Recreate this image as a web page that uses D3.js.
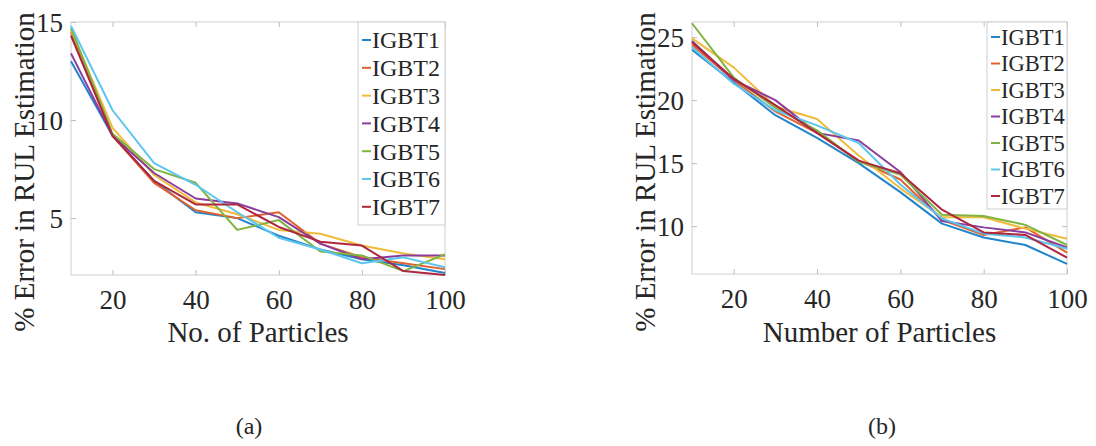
<!DOCTYPE html>
<meta charset="utf-8">
<script src="https://d3js.org/d3.v7.min.js"></script>
<style>
  body { margin: 0; background: #fff; }
  text { font-family: "Liberation Serif", "Times New Roman", serif; fill: #262626; }
</style>
<div id="dataviz"></div>
<script>

// number of particles (x values)
var particles = [10, 20, 30, 40, 50, 60, 70, 80, 90, 100];
var names = ["IGBT1", "IGBT2", "IGBT3", "IGBT4", "IGBT5", "IGBT6", "IGBT7"];
var colors = ["#2184cc", "#e0622c", "#efbb3a", "#8a3d9c", "#80b440", "#5cc6f0", "#ae2640"];

// panel (a) values
var errA1 = [13.0, 9.2, 6.9, 5.3, 5.0, 4.1, 3.4, 2.9, 2.6, 2.2];
var errA2 = [14.5, 9.2, 6.8, 5.4, 5.0, 5.3, 3.7, 3.0, 2.7, 2.4];
var errA3 = [14.6, 9.6, 7.2, 5.8, 5.2, 4.4, 4.2, 3.6, 3.2, 2.9];
var errA4 = [13.4, 9.2, 7.3, 6.0, 5.75, 5.05, 3.7, 2.9, 3.1, 3.1];
var errA5 = [14.7, 9.3, 7.5, 6.8, 4.4, 4.9, 3.3, 3.1, 2.3, 3.15];
var errA6 = [14.8, 10.5, 7.8, 6.7, 5.3, 4.0, 3.4, 2.7, 3.0, 2.5];
var errA7 = [14.3, 9.2, 6.9, 5.7, 5.7, 4.55, 3.8, 3.6, 2.3, 2.1];

// panel (b) values
var errB1 = [24.0, 21.4, 18.8, 17.0, 15.0, 12.7, 10.2, 9.1, 8.5, 7.0];
var errB2 = [24.4, 21.6, 19.1, 17.4, 15.2, 13.7, 10.5, 9.3, 9.9, 7.9];
var errB3 = [24.9, 22.6, 19.5, 18.5, 15.6, 13.0, 10.7, 10.7, 9.8, 9.0];
var errB4 = [24.7, 21.6, 20.0, 17.4, 16.8, 14.3, 10.4, 9.9, 9.5, 8.3];
var errB5 = [26.1, 21.8, 19.4, 17.6, 15.1, 14.1, 10.9, 10.8, 10.1, 8.5];
var errB6 = [24.2, 21.3, 19.2, 18.0, 16.6, 13.3, 10.6, 9.4, 9.1, 8.2];
var errB7 = [24.6, 21.7, 19.6, 17.4, 15.2, 14.2, 11.3, 9.5, 9.3, 7.5];

var xTicks = [20, 40, 60, 80, 100];
var yTicksA = [5, 10, 15];
var yTicksB = [10, 15, 20, 25];

var svg = d3.select("#dataviz")
  .append("svg")
    .attr("width", 1096)
    .attr("height", 446);

function drawPanel(opt) {
  var g = svg.append("g")
    .attr("transform", "translate(" + opt.left + "," + opt.top + ")");
  var w = opt.width, h = opt.height;

  var x = d3.scaleLinear().domain([10, 100]).range([0, w]);
  var y = d3.scaleLinear().domain(opt.yDomain).range([h, 0]);

  // box
  g.append("rect")
    .attr("width", w).attr("height", h)
    .attr("fill", "none").attr("stroke", "#cfcfcf").attr("stroke-width", 1);

  // ticks, inward, on all four sides
  var axB = g.append("g").attr("transform", "translate(0," + h + ")")
    .call(d3.axisBottom(x).tickValues(xTicks).tickSizeInner(-5).tickSizeOuter(0).tickPadding(15));
  var axT = g.append("g")
    .call(d3.axisTop(x).tickValues(xTicks).tickSizeInner(-5).tickSizeOuter(0).tickFormat(""));
  var axL = g.append("g")
    .call(d3.axisLeft(y).tickValues(opt.yTicks).tickSizeInner(-5).tickSizeOuter(0).tickPadding(8));
  var axR = g.append("g").attr("transform", "translate(" + w + ",0)")
    .call(d3.axisRight(y).tickValues(opt.yTicks).tickSizeInner(-5).tickSizeOuter(0).tickFormat(""));
  [axB, axT, axL, axR].forEach(function(a) {
    a.select(".domain").remove();
    a.selectAll("line").attr("stroke", "#bdbdbd");
    a.selectAll("text")
      .style("font-family", "'Liberation Serif', serif")
      .style("font-size", "27px")
      .attr("fill", "#262626");
  });
  axB.selectAll("text").attr("dy", "0.71em");
  axL.selectAll("text").attr("dy", "0.34em");

  // lines
  var line = d3.line()
    .x(function(d, i) { return x(particles[i]); })
    .y(function(d) { return y(d); });
  opt.series.forEach(function(s, k) {
    g.append("path")
      .datum(s)
      .attr("fill", "none")
      .attr("stroke", colors[k])
      .attr("stroke-width", 2)
      .attr("stroke-linejoin", "round")
      .attr("d", line);
  });

  // axis labels
  g.append("text")
    .attr("x", w / 2).attr("y", 320)
    .attr("text-anchor", "middle")
    .style("font-size", "29px")
    .text(opt.xLabel);
  g.append("text")
    .attr("transform", "rotate(-90)")
    .attr("x", -150).attr("y", opt.yLabelX)
    .attr("text-anchor", "middle")
    .style("font-size", "29px")
    .text("% Error in RUL Estimation");

  // legend
  var lg = g.append("g").attr("transform", "translate(" + opt.legX + ",0)");
  lg.append("rect")
    .attr("width", opt.legW).attr("height", opt.legH)
    .attr("fill", "#fff").attr("stroke", "#cfcfcf");
  names.forEach(function(n, k) {
    var cy = opt.legY0 + k * opt.legStep;
    lg.append("line")
      .attr("x1", 4).attr("x2", 13)
      .attr("y1", cy).attr("y2", cy)
      .attr("stroke", colors[k]).attr("stroke-width", 2);
    lg.append("text")
      .attr("x", 14).attr("y", cy).attr("dy", "0.35em")
      .style("font-size", opt.legFont + "px")
      .text(n);
  });

  // sub caption
  svg.append("text")
    .attr("x", opt.capX).attr("y", 434)
    .attr("text-anchor", "middle")
    .style("font-size", "24px")
    .text(opt.caption);
}

drawPanel({
  left: 71, top: 22, width: 374, height: 253,
  yDomain: [2.1, 15], yTicks: yTicksA,
  series: [errA1, errA2, errA3, errA4, errA5, errA6, errA7],
  xLabel: "No. of Particles", yLabelX: -37,
  legX: 287, legW: 87, legH: 203, legY0: 18, legStep: 27.8, legFont: 24,
  caption: "(a)", capX: 249
});

drawPanel({
  left: 692, top: 22, width: 375, height: 252,
  yDomain: [6.2, 26.2], yTicks: yTicksB,
  series: [errB1, errB2, errB3, errB4, errB5, errB6, errB7],
  xLabel: "Number of Particles", yLabelX: -37,
  legX: 295, legW: 80, legH: 187, legY0: 15, legStep: 26.5, legFont: 22.5,
  caption: "(b)", capX: 882
});

</script>
